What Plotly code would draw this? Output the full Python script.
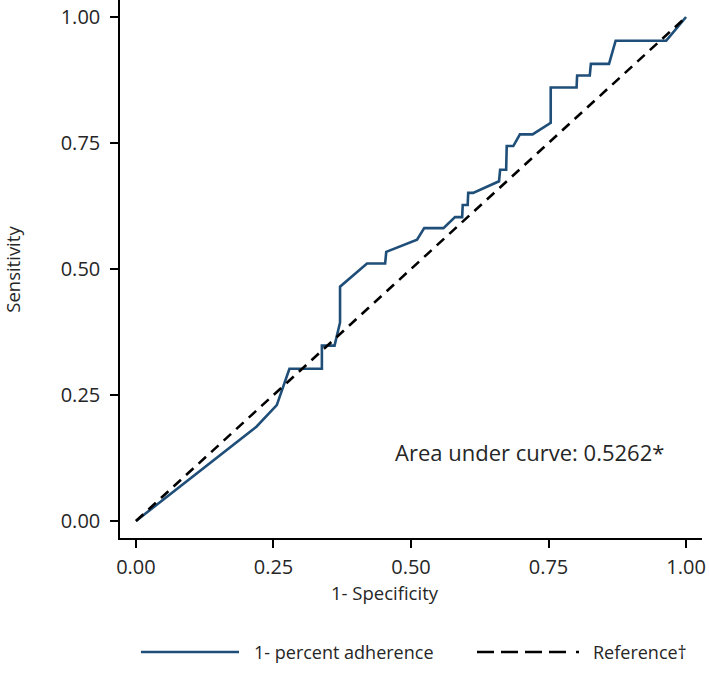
import plotly.graph_objects as go

# ROC curve data (1 - specificity, sensitivity)
fpr = [0.0, 0.219, 0.256, 0.279, 0.338, 0.338, 0.361, 0.371, 0.371, 0.420,
       0.453, 0.455, 0.511, 0.524, 0.559, 0.580, 0.593, 0.594, 0.603, 0.604,
       0.613, 0.660, 0.662, 0.673, 0.674, 0.686, 0.698, 0.721, 0.754, 0.754,
       0.801, 0.802, 0.825, 0.827, 0.860, 0.872, 0.964, 1.0]
tpr = [0.0, 0.187, 0.230, 0.302, 0.302, 0.348, 0.348, 0.394, 0.465, 0.511,
       0.511, 0.534, 0.558, 0.581, 0.581, 0.603, 0.603, 0.627, 0.627, 0.651,
       0.651, 0.674, 0.697, 0.697, 0.744, 0.744, 0.767, 0.767, 0.790, 0.860,
       0.860, 0.884, 0.884, 0.907, 0.907, 0.953, 0.953, 1.0]
ref_x = [0.0, 1.0]
ref_y = [0.0, 1.0]
tick_vals = [0.0, 0.25, 0.5, 0.75, 1.0]
tick_text = ["0.00", "0.25", "0.50", "0.75", "1.00"]
auc_label = "Area under curve: 0.5262*"
x_title = "1- Specificity"
y_title = "Sensitivity"
series_names = ["1- percent adherence", "Reference†"]

FONT = "Open Sans"
TXT = "#262626"
BLUE = "#1f4e79"

fig = go.Figure()
fig.add_trace(go.Scatter(x=fpr, y=tpr, mode="lines", name=series_names[0],
                         line=dict(color=BLUE, width=2.6), showlegend=False))
fig.add_trace(go.Scatter(x=ref_x, y=ref_y, mode="lines", name=series_names[1],
                         line=dict(color="black", width=2.6, dash="10px,7px"),
                         showlegend=False))

axis_common = dict(
    showgrid=False, zeroline=False, showline=True, linecolor="black", linewidth=1.5,
    ticks="outside", ticklen=8, tickwidth=1.5, tickcolor="black",
    tickvals=tick_vals, ticktext=tick_text,
    tickfont=dict(family=FONT, size=20, color=TXT), mirror=False,
)
fig.update_xaxes(range=[-0.029, 1.029], ticklabelstandoff=2, **axis_common)
fig.update_yaxes(range=[-0.0337, 1.0337], ticklabelstandoff=6, **axis_common)

fig.update_layout(
    width=709, height=687,
    margin=dict(l=120, r=7, t=0, b=149),
    plot_bgcolor="white", paper_bgcolor="white",
    showlegend=False,
    font=dict(family=FONT, color=TXT),
)

# axis titles
fig.add_annotation(text=y_title, xref="paper", yref="paper", x=-0.186, y=0.5,
                   textangle=-90, showarrow=False, font=dict(family=FONT, size=18.5, color=TXT),
                   xanchor="center", yanchor="middle")
fig.add_annotation(text=x_title, xref="paper", yref="paper", x=0.455, y=-0.102,
                   showarrow=False, font=dict(family=FONT, size=18.5, color=TXT),
                   xanchor="center", yanchor="middle")
# AUC text
fig.add_annotation(text=auc_label, xref="x", yref="y", x=0.467, y=0.137,
                   showarrow=False, font=dict(family=FONT, size=22, color=TXT),
                   xanchor="left", yanchor="middle")

# custom legend
ly = -0.212
fig.add_shape(type="line", xref="paper", yref="paper", x0=0.036, x1=0.2045, y0=ly, y1=ly,
              line=dict(color=BLUE, width=2.6))
fig.add_annotation(text=series_names[0], xref="paper", yref="paper", x=0.2268, y=ly,
                   showarrow=False, font=dict(family=FONT, size=18, color=TXT),
                   xanchor="left", yanchor="middle")
fig.add_shape(type="line", xref="paper", yref="paper", x0=0.6134, x1=0.790, y0=ly, y1=ly,
              line=dict(color="black", width=2.6,
                        dash="17px,7px,17px,7px,17px,7px,17px,10px,3px"))
fig.add_annotation(text=series_names[1], xref="paper", yref="paper", x=0.809, y=ly,
                   showarrow=False, font=dict(family=FONT, size=18, color=TXT),
                   xanchor="left", yanchor="middle")

fig.write_html("out.html", config={"displayModeBar": False},
               post_script="document.body.style.margin='0';")
